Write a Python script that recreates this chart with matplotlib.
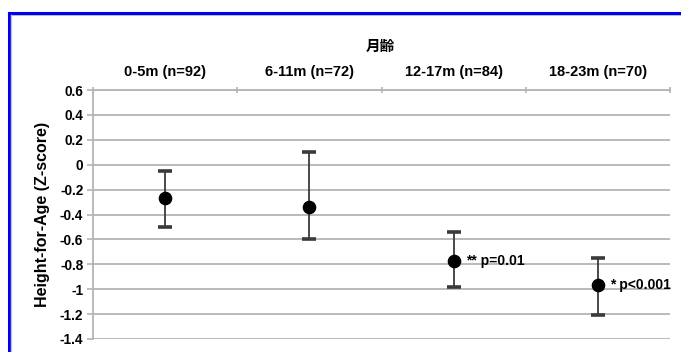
import matplotlib
matplotlib.use("Agg")
import matplotlib.pyplot as plt
from matplotlib.lines import Line2D
import numpy as np

plt.rcParams['font.family'] = ['Liberation Sans', 'Noto Sans CJK JP', 'DejaVu Sans']

categories = ["0-5m (n=92)", "6-11m (n=72)", "12-17m (n=84)", "18-23m (n=70)"]
means = [-0.27, -0.34, -0.77, -0.97]
lows = [-0.50, -0.60, -0.98, -1.21]
highs = [-0.05, 0.10, -0.54, -0.75]
notes = ["", "", "** p=0.01", "* p<0.001"]
yticks = [0.6, 0.4, 0.2, 0, -0.2, -0.4, -0.6, -0.8, -1, -1.2, -1.4]
title = "月齢"
ylabel = "Height-for-Age (Z-score)"

fig = plt.figure(figsize=(6.81, 3.52), dpi=100)
ax = fig.add_axes([93/681, 1-339/352, (670-93)/681, (339-90)/352])

x = np.arange(len(categories)) + 0.5
m = np.array(means)
yerr = [m - np.array(lows), np.array(highs) - m]

for t in yticks:
    ax.axhline(t, color='#b4b4b4', lw=1.3, zorder=1)

ax.errorbar(x, m, yerr=yerr, fmt='o', color='black', ecolor='#3a3a3a',
            elinewidth=1.3, capsize=4.8, capthick=2.6, markersize=8.8, zorder=3)

for xi, yi, n in zip(x, m, notes):
    if n:
        ax.annotate(n, (xi, yi), xytext=(9, 0), textcoords='offset points',
                    va='center', ha='left', fontsize=10, fontweight='bold',
                    annotation_clip=False, zorder=4)

ax.set_xlim(0, len(categories))
ax.set_ylim(-1.4, 0.6)
ax.set_yticks(yticks)
ax.set_yticklabels([("%g" % t) for t in yticks], fontsize=9.8, fontweight='bold')

ax.xaxis.tick_top()
ax.set_xticks(x)
ax.set_xticklabels(categories, fontsize=10.5, fontweight='bold')
ax.tick_params(axis='x', which='major', length=0, pad=8)
ax.set_xticks(np.arange(len(categories) + 1), minor=True)
ax.tick_params(axis='x', which='minor', length=4, direction='inout', color='#b4b4b4', width=1.2)
ax.tick_params(axis='y', length=4, color='#b4b4b4', width=1.2, pad=3)

for s in ['right', 'bottom']:
    ax.spines[s].set_visible(False)
for s in ['top', 'left']:
    ax.spines[s].set_color('#b4b4b4')
    ax.spines[s].set_linewidth(1.3)

ax.set_ylabel(ylabel, fontsize=11.5, fontweight='bold')
ax.yaxis.set_label_coords((50 - 93) / 577, 0.5)
fig.text(380 / 681, 1 - 45.5/352, title, ha='center', va='center',
         fontsize=10.5, fontweight='bold', family=['Noto Sans CJK JP', 'DejaVu Sans'])

# blue frame
fig.add_artist(Line2D([8.5/681, 1.0], [1 - 14.5/352, 1 - 14.5/352], color='#c0c0c0', lw=1.5, transform=fig.transFigure))
fig.add_artist(Line2D([8.5/681, 1.0], [1 - 12.5/352, 1 - 12.5/352], color='#0000ee', lw=2.2, transform=fig.transFigure))
fig.add_artist(Line2D([8.5/681, 8.5/681], [0, 1 - 12.5/352], color='#0000ee', lw=2.2, transform=fig.transFigure))
fig.add_artist(Line2D([10.5/681, 10.5/681], [0, 1 - 14.5/352], color='#c8c8c8', lw=1.0, transform=fig.transFigure))

fig.savefig("out.png", dpi=100)
